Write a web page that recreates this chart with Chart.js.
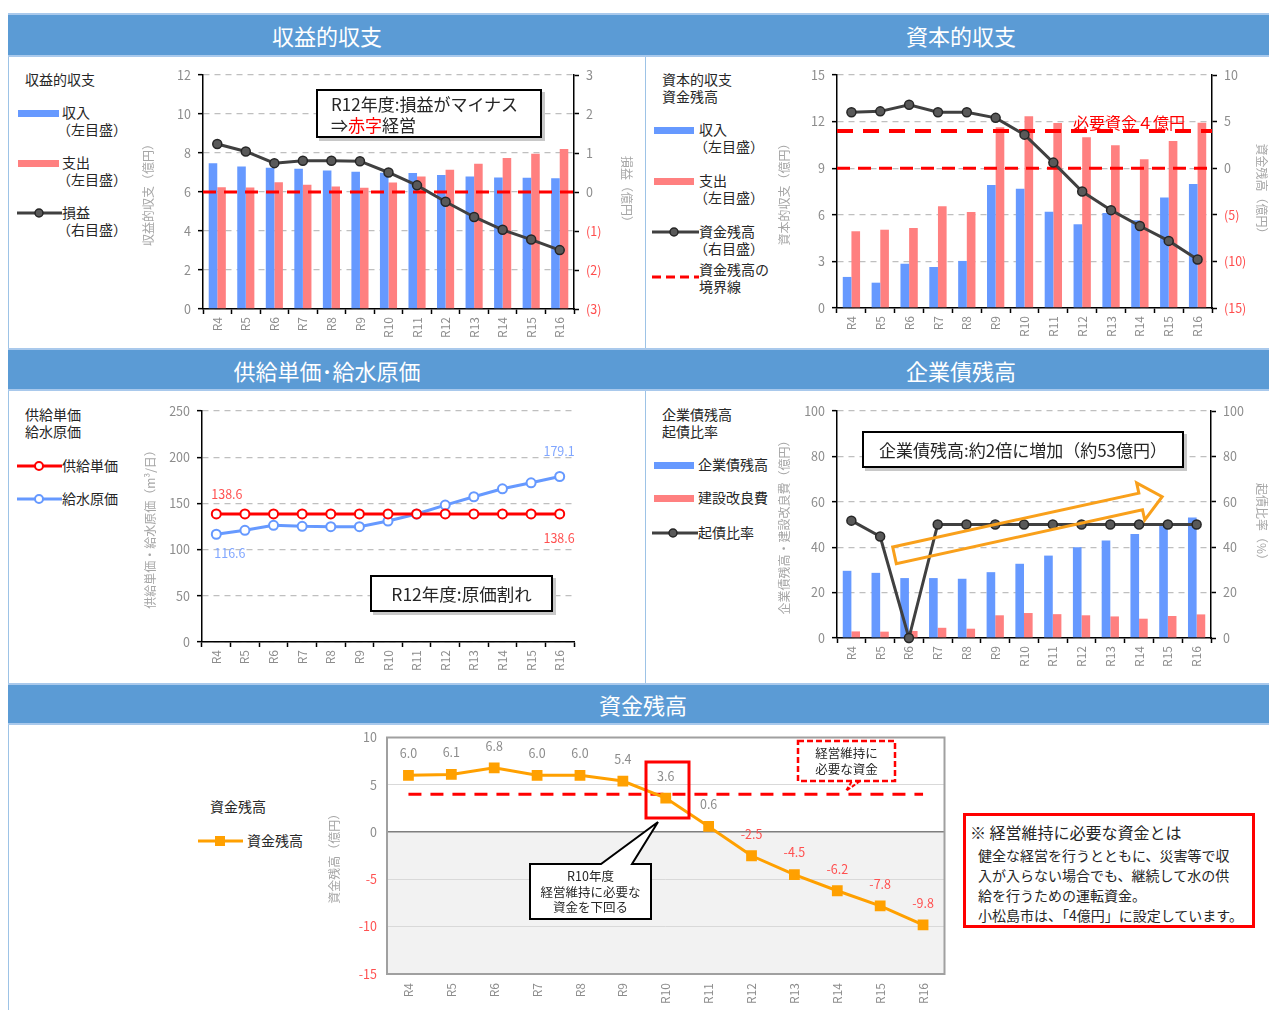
<!DOCTYPE html>
<html lang="ja">
<head>
<meta charset="utf-8">
<title>経営見通し</title>
<script src="https://cdn.jsdelivr.net/npm/chart.js@4.4.1/dist/chart.umd.min.js"></script>
<style>
  body { margin:0; width:1269px; height:1010px; overflow:hidden; background:#fff; position:relative;
         font-family:"Noto Sans CJK JP","Noto Sans",sans-serif; color:#262626; }
  .abs { position:absolute; }
  .hdr { position:absolute; background:#5b9bd5; color:#fff; font-size:22px; box-sizing:border-box;
         border-top:2px solid #a9c9ec; border-bottom:2px solid #a9c9ec;
         display:flex; align-items:center; justify-content:center; }
  .vline { position:absolute; width:1px; background:#9dc3e6; }
  .lg { position:absolute; font-size:14px; line-height:17px; white-space:nowrap; }
  .lg .p { margin-left:-5px; }
  .sw { position:absolute; height:7px; width:41px; }
  .box { position:absolute; background:#fff; border:2px solid #000; box-shadow:3px 3px 0 #c8c8c8;
         box-sizing:border-box; font-size:17px; white-space:nowrap; }
  canvas { position:absolute; }
</style>
</head>
<body>

<!-- frame -->
<div class="vline" style="left:8px;top:13px;height:1000px"></div>
<div class="vline" style="left:645px;top:13px;height:670px"></div>
<div class="hdr" style="left:8px;top:13px;width:638px;height:44px">収益的収支</div>
<div class="hdr" style="left:646px;top:13px;width:630px;height:44px">資本的収支</div>
<div class="hdr" style="left:8px;top:348px;width:638px;height:43px">供給単価･給水原価</div>
<div class="hdr" style="left:646px;top:348px;width:630px;height:43px">企業債残高</div>
<div class="hdr" style="left:8px;top:683px;width:1270px;height:42px">資金残高</div>

<canvas id="c1" width="493" height="290" style="left:141px;top:55px"></canvas>
<canvas id="c2" width="492" height="290" style="left:777px;top:55px"></canvas>
<canvas id="c3" width="495" height="290" style="left:143px;top:393px"></canvas>
<canvas id="c4" width="492" height="290" style="left:777px;top:393px"></canvas>
<canvas id="c5" width="626" height="290" style="left:327px;top:720px"></canvas>

<!-- legend 1 -->
<div class="lg" style="left:25px;top:71px">収益的収支</div>
<div class="sw" style="left:18px;top:110px;background:#6699ff"></div>
<div class="lg" style="left:62px;top:104px">収入<br><span class="p">（左目盛）</span></div>
<div class="sw" style="left:18px;top:160px;background:#ff8080"></div>
<div class="lg" style="left:62px;top:154px">支出<br><span class="p">（左目盛）</span></div>
<svg class="abs" style="left:17px;top:206px" width="45" height="14"><line x1="0" y1="7" x2="45" y2="7" stroke="#404040" stroke-width="3"/><circle cx="22" cy="7" r="4" fill="#595959" stroke="#262626" stroke-width="1.5"/></svg>
<div class="lg" style="left:62px;top:204px">損益<br><span class="p">（右目盛）</span></div>
<div class="box" style="left:316px;top:89px;width:226px;height:49px;padding:2px 0 0 13px;line-height:21px">R12年度:損益がマイナス<br>⇒<span style="color:#ff0000">赤字</span>経営</div>

<!-- legend 2 -->
<div class="lg" style="left:662px;top:71px">資本的収支<br>資金残高</div>
<div class="sw" style="left:654px;top:127px;width:40px;background:#6699ff"></div>
<div class="lg" style="left:699px;top:121px">収入<br><span class="p">（左目盛）</span></div>
<div class="sw" style="left:654px;top:178px;width:40px;background:#ff8080"></div>
<div class="lg" style="left:699px;top:172px">支出<br><span class="p">（左目盛）</span></div>
<svg class="abs" style="left:652px;top:225px" width="47" height="14"><line x1="0" y1="7" x2="47" y2="7" stroke="#404040" stroke-width="3"/><circle cx="22" cy="7" r="4" fill="#595959" stroke="#262626" stroke-width="1.5"/></svg>
<div class="lg" style="left:699px;top:223px">資金残高<br><span class="p">（右目盛）</span></div>
<svg class="abs" style="left:652px;top:273px" width="47" height="8"><line x1="0" y1="4" x2="47" y2="4" stroke="#ff0000" stroke-width="3" stroke-dasharray="9,5"/></svg>
<div class="lg" style="left:699px;top:261px">資金残高の<br>境界線</div>
<div class="abs" style="left:1073px;top:110px;font-size:16px;color:#ff0000;white-space:nowrap">必要資金４億円</div>

<!-- legend 3 -->
<div class="lg" style="left:25px;top:406px">供給単価<br>給水原価</div>
<svg class="abs" style="left:17px;top:459px" width="45" height="14"><line x1="0" y1="7" x2="45" y2="7" stroke="#ff0000" stroke-width="3"/><circle cx="22" cy="7" r="4" fill="#fff" stroke="#ff0000" stroke-width="2"/></svg>
<div class="lg" style="left:62px;top:457px">供給単価</div>
<svg class="abs" style="left:17px;top:492px" width="45" height="14"><line x1="0" y1="7" x2="45" y2="7" stroke="#6699ff" stroke-width="3"/><circle cx="22" cy="7" r="4" fill="#fff" stroke="#6699ff" stroke-width="2"/></svg>
<div class="lg" style="left:62px;top:490px">給水原価</div>
<div class="box" style="left:370px;top:575px;width:183px;height:37px;font-size:17.5px;display:flex;align-items:center;justify-content:center">R12年度:原価割れ</div>

<!-- legend 4 -->
<div class="lg" style="left:662px;top:406px">企業債残高<br>起債比率</div>
<div class="sw" style="left:654px;top:462px;width:40px;background:#6699ff"></div>
<div class="lg" style="left:698px;top:456px">企業債残高</div>
<div class="sw" style="left:654px;top:495px;width:40px;background:#ff8080"></div>
<div class="lg" style="left:698px;top:489px">建設改良費</div>
<svg class="abs" style="left:652px;top:526px" width="46" height="14"><line x1="0" y1="7" x2="46" y2="7" stroke="#404040" stroke-width="3"/><circle cx="21" cy="7" r="4" fill="#595959" stroke="#262626" stroke-width="1.5"/></svg>
<div class="lg" style="left:698px;top:524px">起債比率</div>
<div class="box" style="left:862px;top:431px;width:322px;height:37px;display:flex;align-items:center;justify-content:center">企業債残高:約2倍に増加（約53億円）</div>

<!-- legend 5 -->
<div class="lg" style="left:210px;top:798px">資金残高</div>
<svg class="abs" style="left:198px;top:834px" width="45" height="14"><line x1="0" y1="7" x2="45" y2="7" stroke="#ffa000" stroke-width="3"/><rect x="17" y="2" width="10" height="10" fill="#ffa000"/></svg>
<div class="lg" style="left:247px;top:832px">資金残高</div>

<div class="abs" style="left:963px;top:813px;width:292px;height:115px;border:3px solid #ff0000;box-sizing:border-box;background:#fff"></div>
<div class="abs" style="left:970px;top:820px;font-size:16px;white-space:nowrap">※ 経営維持に必要な資金とは</div>
<div class="abs" style="left:978px;top:845px;font-size:14px;line-height:20px;white-space:nowrap">健全な経営を行うとともに、災害等で収<br>入が入らない場合でも、継続して水の供<br>給を行うための運転資金。<br>小松島市は、「4億円」に設定しています。</div>

<!-- overlay shapes -->
<svg class="abs" style="left:0;top:0;pointer-events:none" width="1269" height="1010">
  <g transform="translate(894.5,555.3) rotate(-12.34)">
    <polygon points="0,-8.5 252,-8.5 252,-19 274,0 252,19 252,8.5 0,8.5" fill="none" stroke="#f9a01b" stroke-width="3"/>
  </g>
  <rect x="646" y="762" width="43" height="56" fill="none" stroke="#ff0000" stroke-width="3"/>
  <path d="M530,864 L601,864 L658,822 L632,864 L651,864 L651,919 L530,919 Z" fill="#fff" stroke="#000" stroke-width="2"/>
  <rect x="798" y="741" width="97" height="40" fill="#fff" stroke="#ff0000" stroke-width="2.5" stroke-dasharray="6,3"/>
  <polyline points="860,781 846,791 852,781" fill="none" stroke="#ff0000" stroke-width="2" stroke-dasharray="4,2"/>
</svg>
<div class="abs" style="left:530px;top:868px;width:121px;text-align:center;font-size:12.5px;line-height:15.5px">R10年度<br>経営維持に必要な<br>資金を下回る</div>
<div class="abs" style="left:798px;top:745px;width:97px;text-align:center;font-size:12.5px;line-height:15.5px">経営維持に<br>必要な資金</div>

<script>
const years = ['R4','R5','R6','R7','R8','R9','R10','R11','R12','R13','R14','R15','R16'];

// 収益的収支 (億円)
const revIncome  = [7.48, 7.31, 7.24, 7.19, 7.10, 7.04, 6.99, 6.97, 6.87, 6.80, 6.75, 6.73, 6.70];
const revExpense = [6.25, 6.23, 6.50, 6.37, 6.28, 6.22, 6.49, 6.80, 7.14, 7.45, 7.74, 7.96, 8.20];
const revProfit  = [1.23, 1.04, 0.74, 0.80, 0.80, 0.79, 0.50, 0.17, -0.25, -0.64, -0.97, -1.22, -1.49];

// 資本的収支・資金残高 (億円)
const capIncome   = [2.00, 1.63, 2.85, 2.64, 3.03, 7.92, 7.68, 6.20, 5.39, 6.12, 5.65, 7.12, 7.98];
const capExpense  = [4.94, 5.04, 5.15, 6.55, 6.18, 11.63, 12.34, 11.91, 10.99, 10.47, 9.57, 10.75, 11.93];
const fundBalance = [6.0, 6.1, 6.8, 6.0, 6.0, 5.4, 3.6, 0.6, -2.5, -4.5, -6.2, -7.8, -9.8];
const requiredFund = 4;
const fundBoundary = 0;
const profitBoundary = 0;

// 供給単価・給水原価 (円/m3)
const supplyPrice = [138.6, 138.6, 138.6, 138.6, 138.6, 138.6, 138.6, 138.6, 138.6, 138.6, 138.6, 138.6, 138.6];
const waterCost   = [116.6, 120.9, 126.3, 125.2, 124.8, 124.8, 130.9, 138.5, 148.2, 157.2, 165.8, 172.3, 179.1];

// 企業債残高 (億円)・起債比率 (%)
const bondBalance      = [29.6, 28.7, 26.4, 26.4, 26.1, 29.0, 32.7, 36.3, 40.0, 43.0, 45.8, 49.3, 53.1];
const constructionCost = [2.9, 2.8, 3.1, 4.5, 4.1, 10.0, 11.0, 10.5, 10.0, 9.5, 8.5, 9.7, 10.4];
const bondRatio        = [51.7, 44.7, 0, 50, 50, 50, 50, 50, 50, 50, 50, 50, 50];

Chart.defaults.font.family = "'Noto Sans CJK JP', 'Noto Sans', sans-serif";
Chart.defaults.animation = false;

const TICK_GRAY = '#8c8c8c', TITLE_GRAY = '#a6a6a6', NEG_RED = '#ff4d4d';
const BLUE = '#6699ff', PINK = '#ff8080', DARK = '#404040';

// horizontal reference lines drawn just before the given dataset
const refLines = {
  id: 'refLines',
  beforeDatasetDraw(chart, args, opts) {
    if (args.index !== opts.beforeIndex) return;
    const { ctx, chartArea } = chart;
    (opts.lines || []).forEach(l => {
      const y = chart.scales[l.axis].getPixelForValue(l.value);
      let x1 = chartArea.left, x2 = chartArea.right;
      if (l.span === 'points') {
        x1 = chart.scales.x.getPixelForValue(0);
        x2 = chart.scales.x.getPixelForValue(chart.data.labels.length - 1);
      }
      ctx.save();
      ctx.strokeStyle = l.color; ctx.lineWidth = l.width; ctx.setLineDash(l.dash);
      ctx.beginPath(); ctx.moveTo(x1, y); ctx.lineTo(x2, y); ctx.stroke();
      ctx.restore();
    });
  }
};

// value labels at selected points
const pointLabels = {
  id: 'pointLabels',
  afterDatasetsDraw(chart, args, opts) {
    const ctx = chart.ctx;
    ctx.save();
    ctx.font = "12.5px 'Noto Sans CJK JP', sans-serif";
    ctx.textBaseline = 'middle';
    (opts.items || []).forEach(it => {
      const meta = chart.getDatasetMeta(it.ds);
      const data = chart.data.datasets[it.ds].data;
      const idx = it.index === 'all' ? data.map((_, i) => i) : [it.index];
      idx.forEach(i => {
        const pt = meta.data[i], v = data[i];
        ctx.fillStyle = typeof it.color === 'function' ? it.color(v) : it.color;
        ctx.textAlign = it.align || 'center';
        ctx.fillText(v.toFixed(1), pt.x + (it.dx || 0), pt.y + (it.dy || 0));
      });
    });
    ctx.restore();
  }
};

function xAxis(h) {
  return {
    offset: true,
    grid: { offset: true, drawOnChartArea: false, tickColor: '#000', tickLength: 5, tickWidth: 1.5 },
    border: { color: '#000', width: 1.5 },
    ticks: { color: TICK_GRAY, font: { size: 12 }, minRotation: 90, maxRotation: 90, autoSkip: false, padding: 3 },
    afterFit: s => { s.height = h; }
  };
}

function leftAxis(w, min, max, step, title) {
  return {
    position: 'left', min, max,
    ticks: { stepSize: step, color: TICK_GRAY, font: { size: 12.5 }, padding: 7 },
    grid: { color: '#bfbfbf', lineWidth: 1.3, tickColor: '#000', tickLength: 5, tickWidth: 1.5 },
    border: { color: '#000', width: 1.5, dash: [6, 5] },
    title: { display: true, text: title, color: TITLE_GRAY, font: { size: 12 }, padding: 0 },
    afterFit: s => { s.width = w; }
  };
}

function rightAxis(w, min, max, step, title) {
  return {
    position: 'right', min, max,
    ticks: {
      stepSize: step, font: { size: 12.5 }, padding: 7,
      color: c => c.tick.value < 0 ? NEG_RED : TICK_GRAY,
      callback: v => v < 0 ? '(' + (-v) + ')' : v
    },
    grid: { drawOnChartArea: false, tickColor: '#000', tickLength: 5, tickWidth: 1.5 },
    border: { color: '#000', width: 1.5 },
    title: { display: true, text: title, color: TITLE_GRAY, font: { size: 12 }, padding: 0 },
    afterFit: s => { s.width = w; }
  };
}

const darkLine = (label, data) => ({
  type: 'line', label, data, yAxisID: 'y1', order: 1, clip: false,
  borderColor: DARK, borderWidth: 3, pointRadius: 4.5,
  pointBackgroundColor: '#595959', pointBorderColor: '#262626', pointBorderWidth: 1.5
});
const bars = (label, data, color) => ({
  type: 'bar', label, data, backgroundColor: color, yAxisID: 'y', order: 2,
  categoryPercentage: 0.6, barPercentage: 1.0
});

// 収益的収支
new Chart(document.getElementById('c1'), {
  type: 'bar',
  data: { labels: years, datasets: [
    bars('収入', revIncome, BLUE),
    bars('支出', revExpense, PINK),
    darkLine('損益', revProfit)
  ]},
  options: {
    responsive: false,
    layout: { padding: { top: 20, right: 0, bottom: 0, left: 0 } },
    plugins: {
      legend: { display: false }, tooltip: { enabled: false },
      refLines: { beforeIndex: 2, lines: [{ axis: 'y1', value: profitBoundary, color: '#ff0000', width: 3, dash: [13, 8] }] }
    },
    scales: {
      x: xAxis(36),
      y: leftAxis(62, 0, 12, 2, '収益的収支（億円）'),
      y1: rightAxis(60, -3, 3, 1, '損益（億円）')
    }
  },
  plugins: [refLines]
});

// 資本的収支
new Chart(document.getElementById('c2'), {
  type: 'bar',
  data: { labels: years, datasets: [
    bars('収入', capIncome, BLUE),
    bars('支出', capExpense, PINK),
    darkLine('資金残高', fundBalance)
  ]},
  options: {
    responsive: false,
    layout: { padding: { top: 20, right: 0, bottom: 0, left: 0 } },
    plugins: {
      legend: { display: false }, tooltip: { enabled: false },
      refLines: { beforeIndex: 2, lines: [
        { axis: 'y1', value: requiredFund, color: '#ff0000', width: 4, dash: [16, 10] },
        { axis: 'y1', value: fundBoundary, color: '#ff0000', width: 3, dash: [13, 8] }
      ]}
    },
    scales: {
      x: xAxis(37),
      y: leftAxis(60, 0, 15, 3, '資本的収支（億円）'),
      y1: rightAxis(57, -15, 10, 5, '資金残高（億円）')
    }
  },
  plugins: [refLines]
});

// 供給単価・給水原価
new Chart(document.getElementById('c3'), {
  type: 'line',
  data: { labels: years, datasets: [
    { label: '供給単価', data: supplyPrice, borderColor: '#ff0000', borderWidth: 3, pointRadius: 4.5,
      pointBackgroundColor: '#fff', pointBorderColor: '#ff0000', pointBorderWidth: 2, clip: false },
    { label: '給水原価', data: waterCost, borderColor: BLUE, borderWidth: 3, pointRadius: 4.5,
      pointBackgroundColor: '#fff', pointBorderColor: BLUE, pointBorderWidth: 2, clip: false }
  ]},
  options: {
    responsive: false,
    layout: { padding: { top: 18, right: 64, bottom: 0, left: 0 } },
    plugins: {
      legend: { display: false }, tooltip: { enabled: false },
      pointLabels: { items: [
        { ds: 0, index: 0, dx: -5, dy: -20, align: 'left', color: '#ff5050' },
        { ds: 0, index: 12, dx: 15, dy: 24, align: 'right', color: '#ff5050' },
        { ds: 1, index: 0, dx: -2, dy: 19, align: 'left', color: '#80a6ff' },
        { ds: 1, index: 12, dx: 15, dy: -25, align: 'right', color: '#80a6ff' }
      ]}
    },
    scales: {
      x: xAxis(41),
      y: leftAxis(59, 0, 250, 50, '供給単価・給水原価（m³/日）')
    }
  },
  plugins: [pointLabels]
});

// 企業債残高
new Chart(document.getElementById('c4'), {
  type: 'bar',
  data: { labels: years, datasets: [
    bars('企業債残高', bondBalance, BLUE),
    bars('建設改良費', constructionCost, PINK),
    darkLine('起債比率', bondRatio)
  ]},
  options: {
    responsive: false,
    layout: { padding: { top: 18, right: 0, bottom: 0, left: 0 } },
    plugins: { legend: { display: false }, tooltip: { enabled: false } },
    scales: {
      x: xAxis(45),
      y: leftAxis(60, 0, 100, 20, '企業債残高・建設改良費（億円）'),
      y1: rightAxis(58, 0, 100, 20, '起債比率（%）')
    }
  }
});

// 資金残高
const plotFrame = {
  id: 'plotFrame',
  beforeDraw(chart) {
    const { ctx, chartArea: a } = chart;
    const y0 = chart.scales.y.getPixelForValue(0);
    ctx.save();
    ctx.fillStyle = '#f2f2f2';
    ctx.fillRect(a.left, y0, a.right - a.left, a.bottom - y0);
    ctx.restore();
  },
  afterDraw(chart) {
    const { ctx, chartArea: a } = chart;
    ctx.save();
    ctx.strokeStyle = '#a0a0a0'; ctx.lineWidth = 2;
    ctx.strokeRect(a.left, a.top, a.right - a.left, a.bottom - a.top);
    ctx.restore();
  }
};

new Chart(document.getElementById('c5'), {
  type: 'line',
  data: { labels: years, datasets: [
    { label: '資金残高', data: fundBalance, borderColor: '#ffa000', borderWidth: 3,
      pointStyle: 'rect', pointRadius: 5.5, pointBackgroundColor: '#ffa000', pointBorderColor: '#ffa000' }
  ]},
  options: {
    responsive: false,
    layout: { padding: { top: 10, right: 0, bottom: 0, left: 0 } },
    plugins: {
      legend: { display: false }, tooltip: { enabled: false },
      refLines: { beforeIndex: 0, lines: [{ axis: 'y', value: requiredFund, color: '#ff0000', width: 3, dash: [13, 9], span: 'points' }] },
      pointLabels: { items: [{ ds: 0, index: 'all', dy: -22, color: v => v < 0 ? '#ff5050' : '#8c8c8c' }] }
    },
    scales: {
      x: {
        offset: true,
        grid: { display: false, drawTicks: false }, border: { display: false },
        ticks: { color: TICK_GRAY, font: { size: 12 }, minRotation: 90, maxRotation: 90, autoSkip: false, padding: 9 },
        afterFit: s => { s.height = 36; }
      },
      y: {
        min: -15, max: 10,
        ticks: { stepSize: 5, font: { size: 12.5 }, padding: 10, color: c => c.tick.value < 0 ? '#ff5050' : TICK_GRAY },
        grid: { drawTicks: false, color: c => c.tick.value === 0 ? '#7f7f7f' : '#d9d9d9', lineWidth: c => c.tick.value === 0 ? 1.5 : 1 },
        border: { display: false },
        title: { display: true, text: '資金残高（億円）', color: TITLE_GRAY, font: { size: 12 }, padding: 0 },
        afterFit: s => { s.width = 60; }
      }
    }
  },
  plugins: [refLines, pointLabels, plotFrame]
});
</script>
</body>
</html>
